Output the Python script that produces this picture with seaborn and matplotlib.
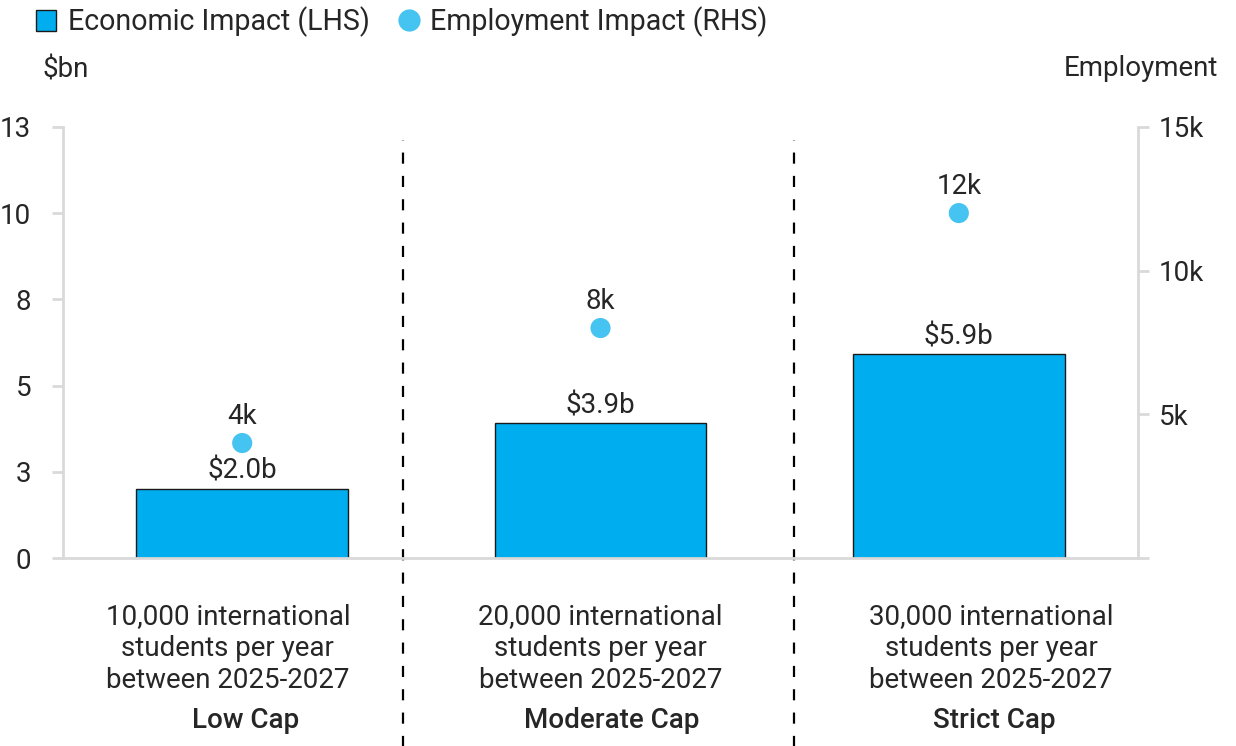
import numpy as np
import pandas as pd
import matplotlib
matplotlib.use("Agg")
import matplotlib.pyplot as plt
from matplotlib.patches import Patch
from matplotlib.lines import Line2D
import seaborn as sns

# Data
caps = ['Low Cap', 'Moderate Cap', 'Strict Cap']
descriptions = ['10,000 international\nstudents per year\nbetween 2025-2027',
                '20,000 international\nstudents per year\nbetween 2025-2027',
                '30,000 international\nstudents per year\nbetween 2025-2027']
economic_bn = [2.0, 3.9, 5.9]          # $bn, left axis
employment_k = [4, 8, 12]              # thousands of jobs, right axis
econ_labels = ['$2.0b', '$3.9b', '$5.9b']
emp_labels = ['4k', '8k', '12k']
left_ticks = [0, 2.5, 5, 7.5, 10, 12.5]
left_tick_labels = ['0', '3', '5', '8', '10', '13']
right_ticks = [0, 5, 10, 15]
right_tick_labels = ['', '5k', '10k', '15k']

bar_color = '#00AEEF'
dot_color = '#45C3F1'
axis_grey = '#D9D9D9'
FS = 20

sns.set_style('white')
plt.rcParams['font.family'] = ['Roboto', 'DejaVu Sans']
plt.rcParams['font.size'] = FS

df = pd.DataFrame({'cap': caps, 'econ': economic_bn, 'emp': employment_k})

fig = plt.figure(figsize=(12.36, 7.46), dpi=100)
ax = fig.add_axes([0.051, 0.252, 0.8697, 0.578])

sns.barplot(data=df, x='cap', y='econ', color=bar_color, width=0.59,
            edgecolor='#1a1a1a', linewidth=1, saturation=1, ax=ax)
ax.set_xlim(-0.5, 2.5)
ax.set_ylim(0, 12.5)
ax.bar_label(ax.containers[0], labels=econ_labels, padding=3, fontsize=FS)

ax2 = ax.twinx()
sns.scatterplot(x=np.arange(len(caps)), y=df['emp'], color=dot_color, s=210,
                edgecolor='none', ax=ax2, zorder=3)
ax2.set_ylim(0, 15)
for i, (v, lab) in enumerate(zip(employment_k, emp_labels)):
    ax2.annotate(lab, (i, v), xytext=(0, 19), textcoords='offset points',
                 ha='center', va='center', fontsize=FS)

# axes styling
ax.set_xlabel('')
ax.set_ylabel('')
ax2.set_ylabel('')
ax.set_xticks([])
ax.set_yticks(left_ticks)
ax.set_yticklabels(left_tick_labels)
ax2.set_yticks(right_ticks)
ax2.set_yticklabels(right_tick_labels)
for a in (ax, ax2):
    for s in a.spines.values():
        s.set_visible(False)
    a.tick_params(axis='y', length=8, width=2, color=axis_grey, labelsize=FS)
ax.spines['left'].set_visible(True)
ax.spines['bottom'].set_visible(True)
ax2.spines['right'].set_visible(True)
for s in (ax.spines['left'], ax.spines['bottom'], ax2.spines['right']):
    s.set_color(axis_grey)
    s.set_linewidth(2)
ax.tick_params(axis='y', pad=15)
ax2.tick_params(axis='y', pad=7)

# dashed separators extending below the axes
for xs in [0.45, 1.54]:
    ax.axvline(xs, ymin=-0.44, ymax=0.97, color='black', linestyle=(0, (5, 5.5)),
               linewidth=1.6, clip_on=False)

# category text below axes
desc_dx = [-0.04, 0.0, 0.09]
cap_dx = [0.01, 0.03, 0.10]
trans = ax.get_xaxis_transform()
for i, (d, c) in enumerate(zip(descriptions, caps)):
    ax.text(i + desc_dx[i], -0.21, d, transform=trans, ha='center', va='center',
            fontsize=FS, linespacing=1.24)
    ax.text(i + cap_dx[i], -0.376, c, transform=trans, ha='center', va='center',
            fontsize=FS, fontweight='medium')

# axis titles
fig.text(42 / 1236, 1 - 70 / 746, '$bn', ha='left', va='center', fontsize=FS)
fig.text(1218 / 1236, 1 - 68 / 746, 'Employment', ha='right', va='center', fontsize=FS)

# legend
handles = [Patch(facecolor=bar_color, edgecolor='#1a1a1a', linewidth=1),
           Line2D([], [], marker='o', linestyle='none', markersize=16,
                  markerfacecolor=dot_color, markeredgecolor='none')]
fig.legend(handles, ['Economic Impact (LHS)', 'Employment Impact (RHS)'],
           loc='center left', bbox_to_anchor=(0.029, 1 - 22 / 746), ncol=2,
           frameon=False, fontsize=20.6, handlelength=0.72, handleheight=0.72,
           handletextpad=0.4, columnspacing=1.0, borderaxespad=0, borderpad=0)

fig.savefig('out.png', dpi=100)
